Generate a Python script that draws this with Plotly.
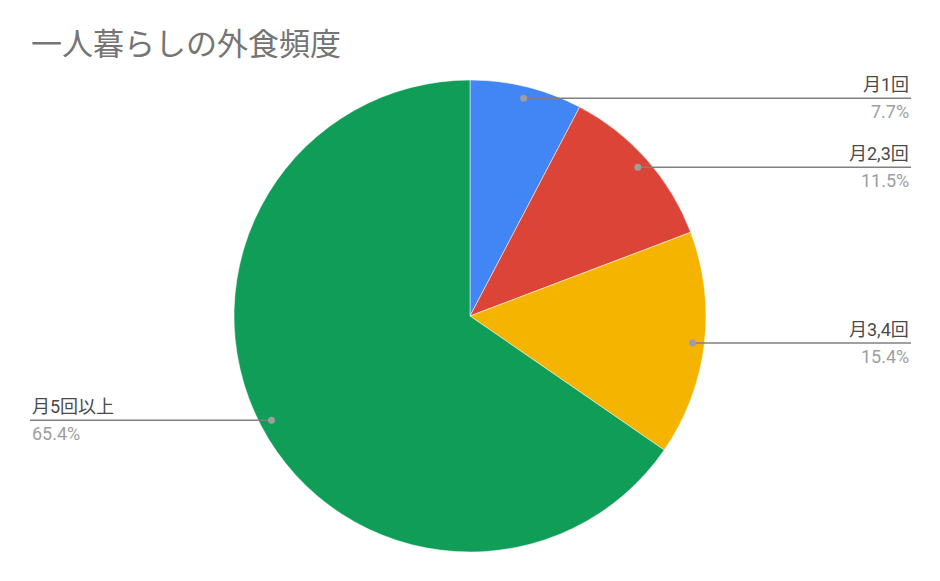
import math
import plotly.graph_objects as go

title = "一人暮らしの外食頻度"
labels = ["月1回", "月2,3回", "月3,4回", "月5回以上"]
counts = [2, 3, 4, 17]
colors = ["#4285F4", "#DB4437", "#F4B400", "#0F9D58"]

# page body has an 8px margin, so the figure is drawn 8px in from the window corner
OFF = 8
W, H = 940 - 2 * OFF, 581 - 2 * OFF
cx, cy, R = 470 - OFF, 316 - OFF, 236   # pie centre / radius in figure pixels
dot_r = 0.95 * R

def px(x):
  return x / W

def py(y):
  return 1 - y / H

fig = go.Figure(data=[
  go.Pie(
    labels=labels,
    values=counts,
    direction='clockwise',
    rotation=0,
    sort=False,
    textinfo='none',
    hoverinfo='label+percent',
    marker=dict(colors=colors, line=dict(color='#FFFFFF', width=0.5)),
    domain=dict(x=[0, 1], y=[py(cy + R), py(cy - R)]),
    showlegend=False
  )
])

font = "Roboto, 'Noto Sans CJK JP', sans-serif"
total = sum(counts)
shapes = []
annotations = []
cum = 0
for name, c in zip(labels, counts):
  mid = (cum + c / 2) / total * 2 * math.pi
  cum += c
  dx = cx + dot_r * math.sin(mid)
  dy = cy - dot_r * math.cos(mid)
  pct = f"{c / total * 100:.1f}%"
  if math.sin(mid) >= 0:
    end, anchor = 911 - OFF, 'right'
  else:
    end, anchor = 30 - OFF, 'left'
  shapes.append(dict(type='line', xref='paper', yref='paper',
                     x0=px(dx), y0=py(dy), x1=px(end), y1=py(dy),
                     line=dict(color='#808080', width=1.5)))
  shapes.append(dict(type='circle', xref='paper', yref='paper',
                     x0=px(dx - 3.5), x1=px(dx + 3.5),
                     y0=py(dy + 3.5), y1=py(dy - 3.5),
                     fillcolor='#9e9e9e', line=dict(width=0)))
  annotations.append(dict(x=px(end), y=py(dy - 1), xref='paper', yref='paper',
                          text=name, showarrow=False, xanchor=anchor, yanchor='bottom',
                          font=dict(family=font, size=18, color='#4a4a4a')))
  annotations.append(dict(x=px(end), y=py(dy + 1), xref='paper', yref='paper',
                          text=pct, showarrow=False, xanchor=anchor, yanchor='top',
                          font=dict(family=font, size=18, color='#9e9e9e')))

annotations.append(dict(x=px(29 - OFF), y=py(44 - OFF), xref='paper', yref='paper',
                        text=title, showarrow=False, xanchor='left', yanchor='middle',
                        font=dict(family=font, size=31, color='#757575')))

fig.update_layout(
  width=W,
  height=H,
  paper_bgcolor='#FFFFFF',
  plot_bgcolor='#FFFFFF',
  margin=dict(t=0, b=0, l=0, r=0),
  shapes=shapes,
  annotations=annotations
)
fig.write_html("out.html")
